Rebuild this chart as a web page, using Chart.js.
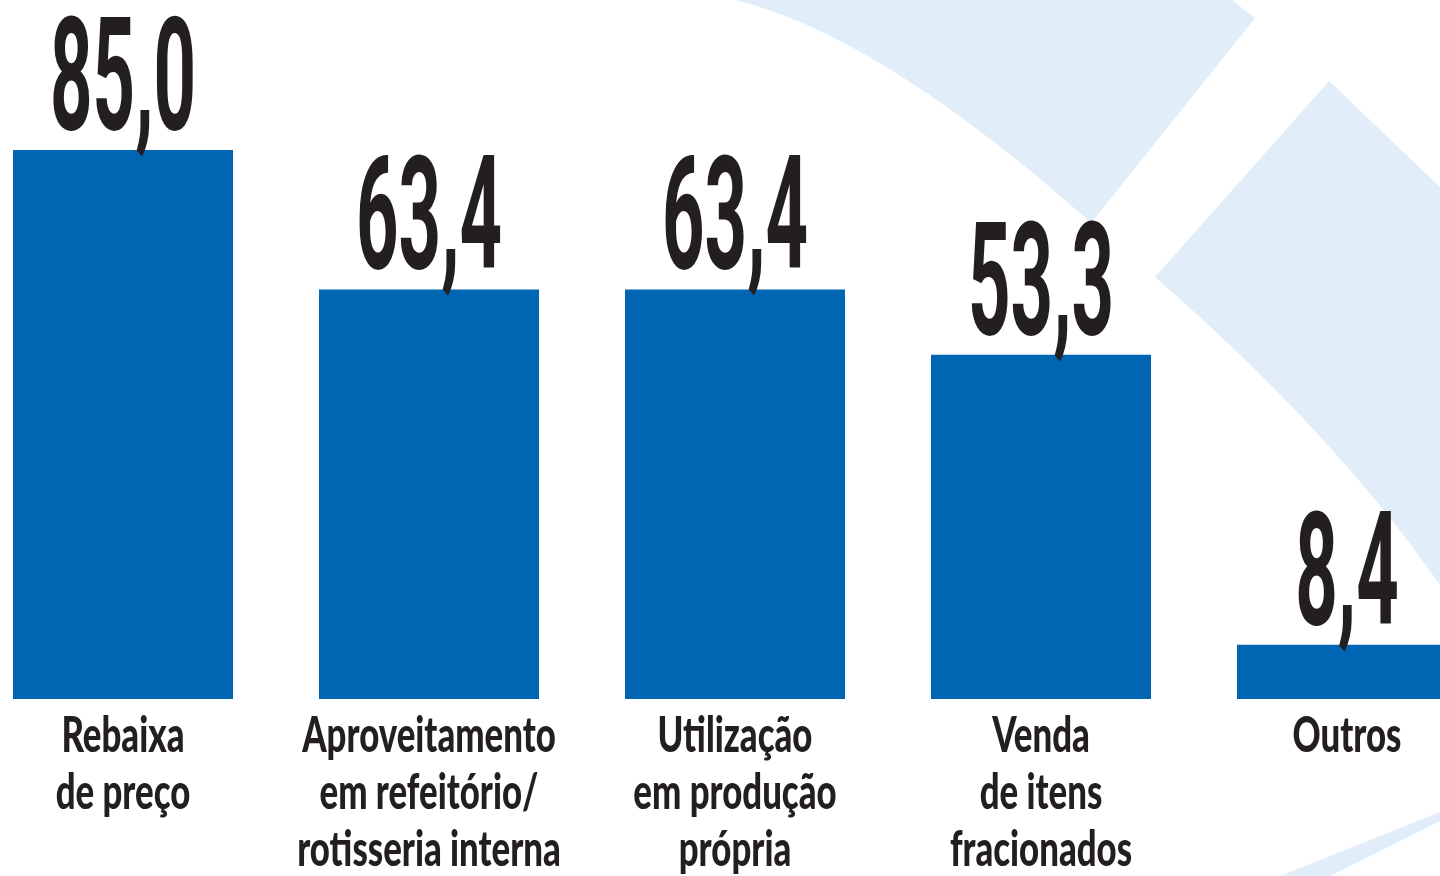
<!DOCTYPE html>
<html><head><meta charset="utf-8">
<script src="https://cdn.jsdelivr.net/npm/chart.js@4"></script>
<style>
html,body{margin:0;padding:0;width:1440px;height:876px;overflow:hidden;background:#fff;}
#bg{position:absolute;left:0;top:0;}
#wrap{position:absolute;left:-30px;top:0;width:1530px;height:876px;}
</style></head><body>
<svg id="bg" width="1440" height="876">
<path d="M735,0 Q880,35 1091,223 L1255,18 L1232,0 Z" fill="#E1EDF9"/>
<path d="M1155,277 L1329,81 L1440,187 L1440,585 Q1336,435 1155,277 Z" fill="#E1EDF9"/>
<path d="M1280,876 L1440,812 L1440,821 L1330,876 Z" fill="#E1EDF9"/>
</svg>
<div id="wrap"><canvas id="c"></canvas></div>
<script>
const categories = [
  ["Rebaixa", "de preço"],
  ["Aproveitamento", "em refeitório/", "rotisseria interna"],
  ["Utilização", "em produção", "própria"],
  ["Venda", "de itens", "fracionados"],
  ["Outros"]
];
const values = [85.0, 63.4, 63.4, 53.3, 8.4];
const valueLabels = ["85,0", "63,4", "63,4", "53,3", "8,4"];

const labelPlugin = {
  id: 'labels',
  afterDatasetsDraw(chart) {
    const ctx = chart.ctx;
    const meta = chart.getDatasetMeta(0);
    const xs = chart.scales.x;
    ctx.save();
    ctx.fillStyle = '#231F20';
    ctx.textBaseline = 'alphabetic';
    ctx.textAlign = 'center';
    meta.data.forEach((bar, i) => {
      ctx.save();
      ctx.translate(bar.x, bar.y - 21);
      ctx.scale(0.47, 1);
      ctx.font = '700 158px Roboto';
      ctx.fillText(valueLabels[i], 0, 0);
      ctx.restore();
    });
    categories.forEach((lines, i) => {
      const x = xs.getPixelForValue(i);
      const base = chart.chartArea.bottom + 53;
      lines.forEach((ln, j) => {
        ctx.save();
        ctx.translate(x, base + j * 57);
        ctx.scale(0.71, 1);
        ctx.font = '900 49px Lato';
        ctx.fillText(ln, 0, 0);
        ctx.restore();
      });
    });
    ctx.restore();
  }
};

new Chart(document.getElementById('c'), {
  type: 'bar',
  data: {
    labels: categories,
    datasets: [{
      data: values,
      backgroundColor: '#0066B3',
      borderWidth: 0,
      barPercentage: 220 / 306,
      categoryPercentage: 1
    }]
  },
  options: {
    responsive: true,
    maintainAspectRatio: false,
    animation: false,
    layout: { padding: { top: 53, bottom: 177, left: 0, right: 0 } },
    plugins: { legend: { display: false }, tooltip: { enabled: false } },
    scales: {
      x: { display: false },
      y: { display: false, min: 0, max: 100 }
    }
  },
  plugins: [labelPlugin]
});
</script>
</body></html>
